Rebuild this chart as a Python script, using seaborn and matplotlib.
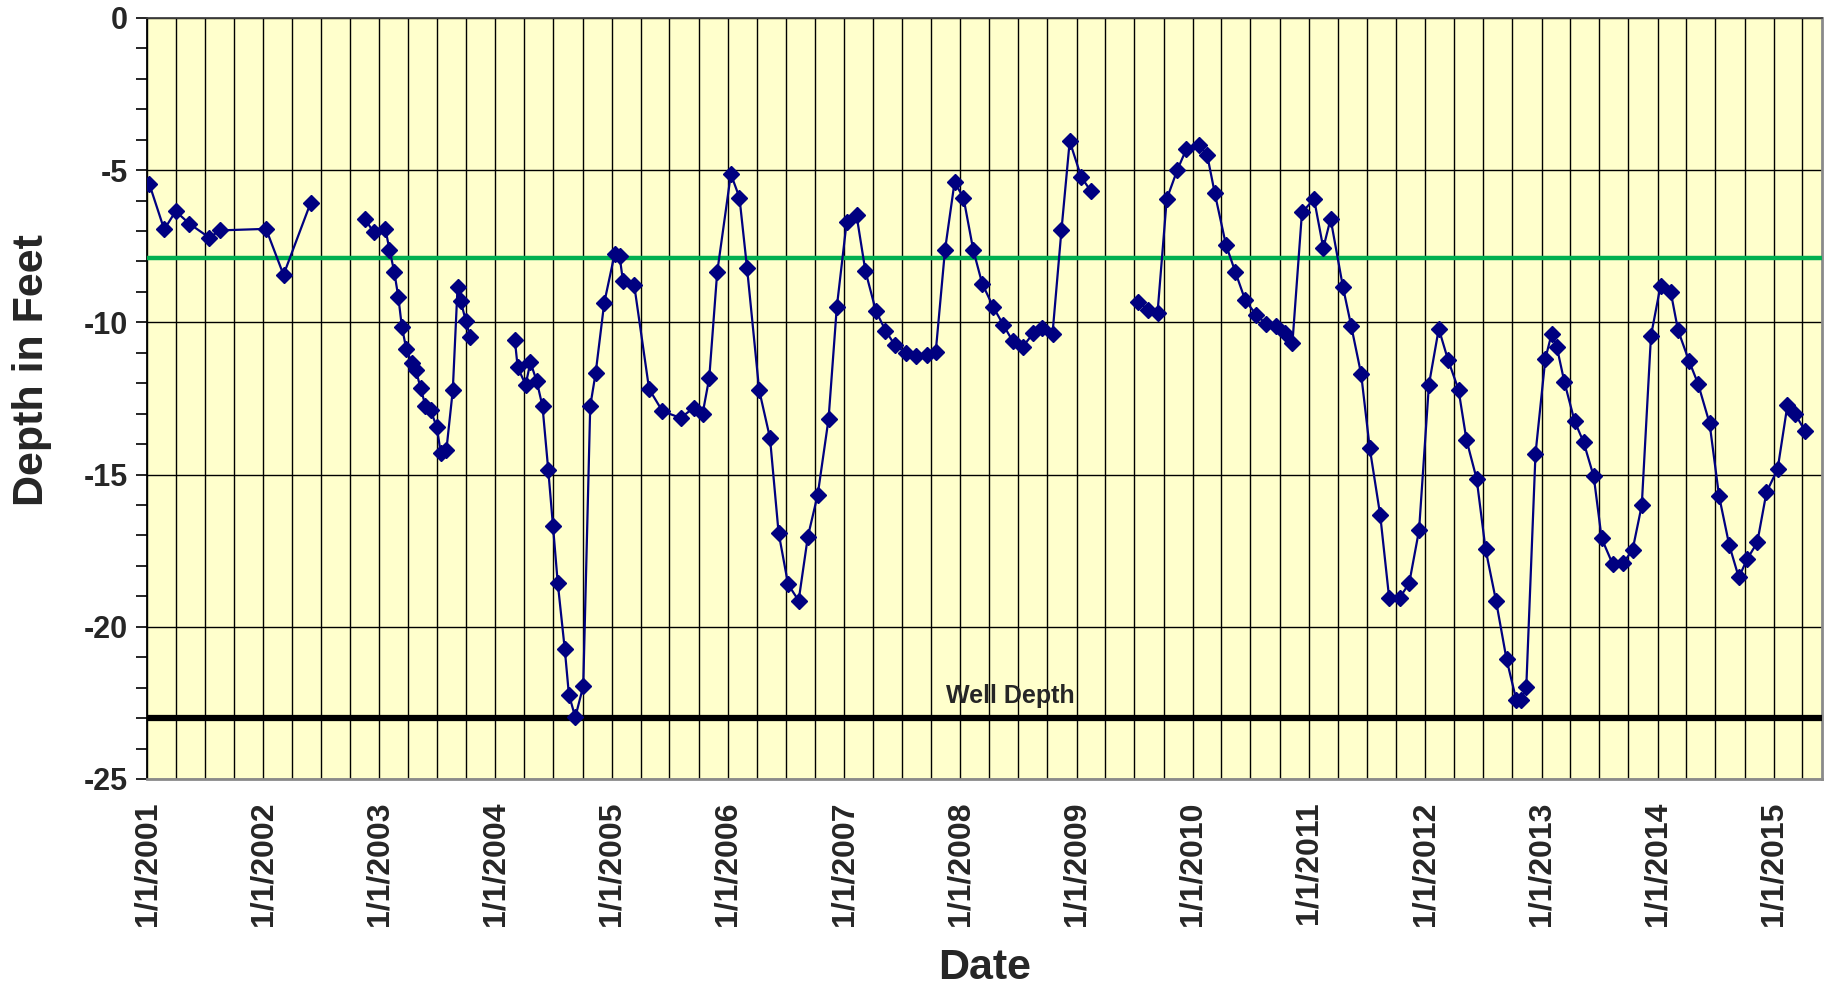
import matplotlib
matplotlib.use("Agg")
import matplotlib.pyplot as plt
import matplotlib.dates as mdates
import matplotlib.ticker as mticker
import pandas as pd
import seaborn as sns

# ---------------- data ----------------
seg1_dates = ["2001-01-08", "2001-02-24", "2001-04-01", "2001-05-14", "2001-07-16",
              "2001-08-18", "2002-01-10", "2002-03-06", "2002-05-30"]
seg1_depths = [-5.45, -6.95, -6.35, -6.76, -7.22, -6.98, -6.93, -8.44, -6.08]

seg2_dates = ["2002-11-17", "2002-12-14", "2003-01-20", "2003-02-02", "2003-02-17",
              "2003-03-02", "2003-03-13", "2003-03-27", "2003-04-14", "2003-04-26",
              "2003-05-11", "2003-05-26", "2003-06-11", "2003-07-01", "2003-07-13",
              "2003-07-31", "2003-08-20", "2003-09-04", "2003-09-14", "2003-09-30",
              "2003-10-14"]
seg2_depths = [-6.60, -7.04, -6.93, -7.61, -8.34, -9.18, -10.15, -10.88, -11.34, -11.58,
               -12.16, -12.74, -12.89, -13.44, -14.29, -14.18, -12.23, -8.84, -9.31, -9.95,
               -10.49]

seg3_dates = ["2004-03-02", "2004-03-11", "2004-04-05", "2004-04-20", "2004-05-10",
              "2004-05-28", "2004-06-15", "2004-06-30", "2004-07-15", "2004-08-06",
              "2004-08-19", "2004-09-08", "2004-10-03", "2004-10-25", "2004-11-11",
              "2004-12-08", "2005-01-10", "2005-01-25", "2005-02-05", "2005-03-12",
              "2005-04-28", "2005-06-09", "2005-08-05", "2005-09-15", "2005-10-13",
              "2005-11-03", "2005-11-28", "2006-01-10", "2006-02-06", "2006-03-02",
              "2006-04-09", "2006-05-13", "2006-06-09", "2006-07-09", "2006-08-11",
              "2006-09-09", "2006-10-10", "2006-11-13", "2006-12-09", "2007-01-09",
              "2007-02-09", "2007-03-09", "2007-04-11", "2007-05-11", "2007-06-09",
              "2007-07-15", "2007-08-15", "2007-09-17", "2007-10-16", "2007-11-14",
              "2007-12-14", "2008-01-11", "2008-02-11", "2008-03-10", "2008-04-14",
              "2008-05-15", "2008-06-14", "2008-07-15", "2008-08-18", "2008-09-14",
              "2008-10-17", "2008-11-14", "2008-12-10", "2009-01-15", "2009-02-15"]
seg3_depths = [-10.57, -11.48, -12.05, -11.31, -11.94, -12.76, -14.84, -16.70, -18.57, -20.74,
               -22.23, -22.97, -21.95, -12.75, -11.67, -9.36, -7.74, -7.81, -8.65, -8.76,
               -12.19, -12.92, -13.14, -12.81, -13.01, -11.83, -8.36, -5.13, -5.90, -8.23,
               -12.23, -13.80, -16.91, -18.61, -19.14, -17.04, -15.66, -13.18, -9.50, -6.70,
               -6.48, -8.32, -9.63, -10.27, -10.74, -11.00, -11.12, -11.07, -10.96, -7.63,
               -5.40, -5.90, -7.63, -8.73, -9.50, -10.08, -10.62, -10.81, -10.35, -10.19,
               -10.37, -6.98, -4.05, -5.22, -5.70]

seg4_dates = ["2009-07-14", "2009-08-13", "2009-09-12", "2009-10-11", "2009-11-13",
              "2009-12-12", "2010-01-20", "2010-02-15", "2010-03-11", "2010-04-15",
              "2010-05-15", "2010-06-15", "2010-07-19", "2010-08-18", "2010-09-18",
              "2010-10-17", "2010-11-10", "2010-12-10", "2011-01-17", "2011-02-15",
              "2011-03-10", "2011-04-18", "2011-05-14", "2011-06-14", "2011-07-11",
              "2011-08-13", "2011-09-10", "2011-10-13", "2011-11-12", "2011-12-13",
              "2012-01-13", "2012-02-13", "2012-03-13", "2012-04-15", "2012-05-10",
              "2012-06-11", "2012-07-09", "2012-08-11", "2012-09-13", "2012-10-14",
              "2012-10-29", "2012-11-14", "2012-12-13", "2013-01-13", "2013-02-02",
              "2013-02-18", "2013-03-14", "2013-04-15", "2013-05-13", "2013-06-14",
              "2013-07-09", "2013-08-13", "2013-09-14", "2013-10-14", "2013-11-12",
              "2013-12-11", "2014-01-10", "2014-02-11", "2014-03-06", "2014-04-10",
              "2014-05-08", "2014-06-13", "2014-07-13", "2014-08-14", "2014-09-13",
              "2014-10-09", "2014-11-10", "2014-12-09", "2015-01-13", "2015-02-13",
              "2015-03-09", "2015-04-10"]
seg4_depths = [-9.34, -9.58, -9.69, -5.95, -5.00, -4.30, -4.18, -4.50, -5.76, -7.45,
               -8.36, -9.28, -9.75, -10.04, -10.13, -10.35, -10.68, -6.39, -5.95, -7.56,
               -6.60, -8.85, -10.13, -11.70, -14.13, -16.34, -19.05, -19.05, -18.57, -16.83,
               -12.05, -10.21, -11.23, -12.21, -13.86, -15.14, -17.45, -19.15, -21.07, -22.42,
               -22.39, -21.99, -14.32, -11.19, -10.37, -10.81, -11.97, -13.25, -13.93, -15.06,
               -17.10, -17.95, -17.91, -17.48, -16.01, -10.44, -8.80, -9.00, -10.26, -11.28,
               -12.02, -13.31, -15.71, -17.32, -18.38, -17.78, -17.23, -15.58, -14.82, -12.71,
               -13.01, -13.58]

target_level = -7.9
well_depth = -23.0
well_label = "Well Depth"
x_start, x_end = "2001-01-01", "2015-06-01"
y_ticks = [-25, -20, -15, -10, -5, 0]

# ---------------- build table ----------------
frames = []
for i, (d, v) in enumerate([(seg1_dates, seg1_depths), (seg2_dates, seg2_depths),
                            (seg3_dates, seg3_depths), (seg4_dates, seg4_depths)]):
    frames.append(pd.DataFrame({"date": pd.to_datetime(d), "depth": v, "segment": i}))
df = pd.concat(frames, ignore_index=True)

# ---------------- style ----------------
sns.set_style("white")
plt.rcParams['font.family'] = ['Liberation Sans', 'DejaVu Sans']
plt.rcParams['font.weight'] = 'bold'
plt.rcParams['axes.unicode_minus'] = False

fig = plt.figure(figsize=(18.31, 9.94), dpi=100)
ax = fig.add_axes([0.0803, 0.2163, 0.9147, 0.7657])
ax.set_facecolor('#FFFFCC')

ax.axhline(target_level, color='#00B050', lw=3.2, zorder=3)
ax.axhline(well_depth, color='black', lw=4.5, zorder=3)

sns.lineplot(data=df, x="date", y="depth", units="segment", estimator=None, sort=False,
             color='#000080', marker='D', markersize=8, markeredgecolor='#000080',
             markeredgewidth=1, linewidth=1.6, legend=False, ax=ax, zorder=5)

ax.text(pd.Timestamp("2008-06-05"), well_depth + 0.34, well_label, ha='center', va='bottom',
        fontsize=18, fontweight='bold', zorder=6)

# axes ranges & ticks
ax.set_xlim(pd.Timestamp(x_start), pd.Timestamp(x_end))
ax.set_ylim(-25, 0)
ax.xaxis.set_major_locator(mdates.YearLocator())
ax.xaxis.set_minor_locator(mdates.MonthLocator(bymonth=[4, 7, 10]))
ax.xaxis.set_major_formatter(mticker.FuncFormatter(
    lambda v, p: (lambda d: f"{d.month}/{d.day}/{d.year}")(mdates.num2date(v))))
ax.set_yticks(y_ticks)
ax.yaxis.set_minor_locator(mticker.MultipleLocator(1))

ax.grid(axis='x', which='both', color='black', lw=1.0, zorder=1)
ax.grid(axis='y', which='major', color='black', lw=1.0, zorder=1)
ax.set_axisbelow(True)

ax.tick_params(axis='x', which='both', length=0, pad=16, labelsize=23, labelrotation=90)
ax.tick_params(axis='y', which='both', direction='out', length=8, width=1.2,
               color='black', left=True, labelsize=22, pad=6)

ax.spines['left'].set_color('black'); ax.spines['left'].set_linewidth(1.3)
ax.spines['top'].set_color('#404040'); ax.spines['top'].set_linewidth(1.3)
for s in ['right', 'bottom']:
    ax.spines[s].set_color('#8a8a8a'); ax.spines[s].set_linewidth(2)

ax.set_xlabel("Date", fontsize=31, fontweight='bold')
ax.set_ylabel("Depth in Feet", fontsize=31, fontweight='bold')
ax.xaxis.set_label_coords(0.5, -0.222)
ax.yaxis.set_label_coords(-0.057, 0.537)

fig.savefig("out.png", dpi=100)
